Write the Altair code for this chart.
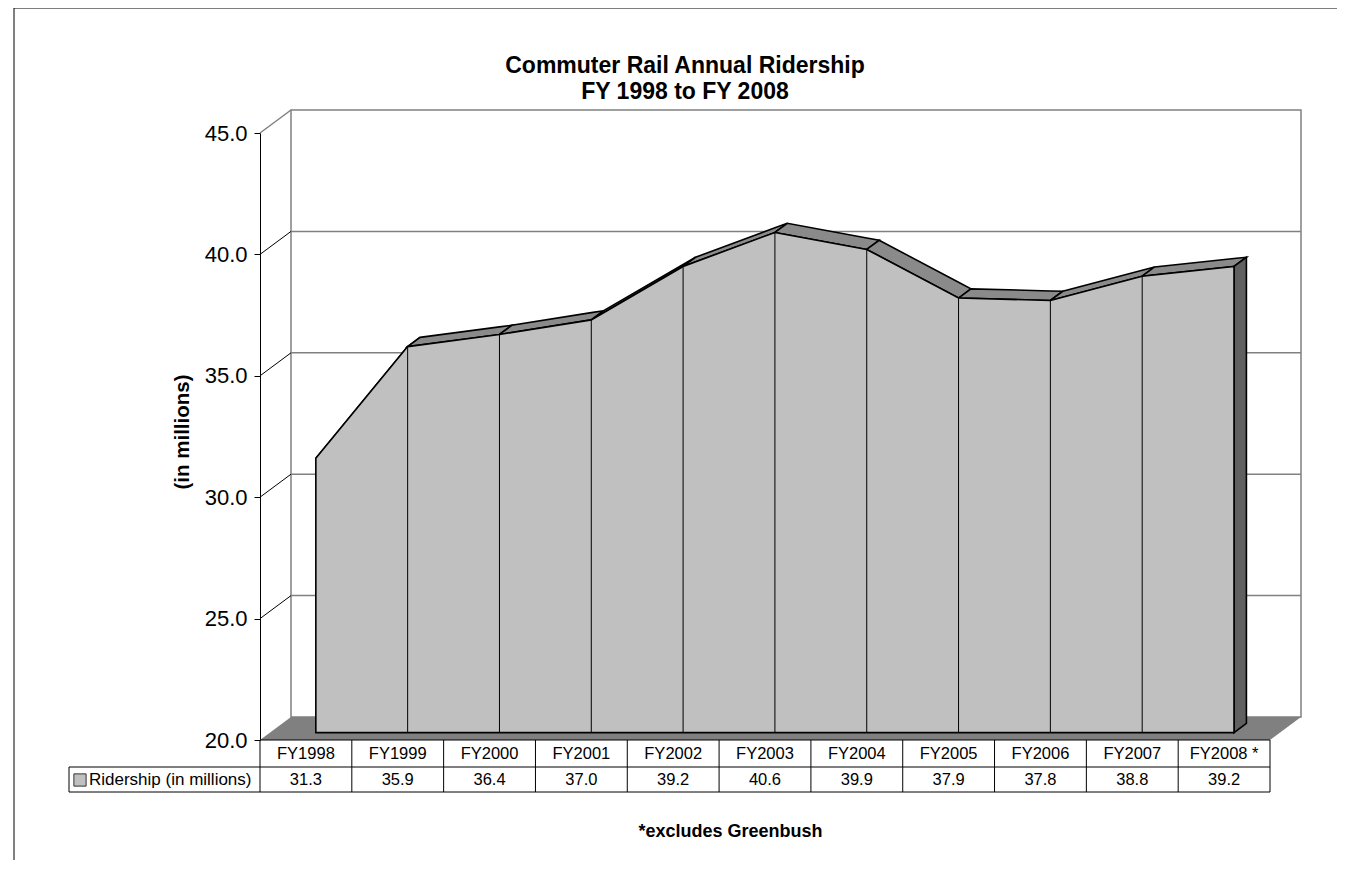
import altair as alt
import pandas as pd

# ---------------- data ----------------
categories = ["FY1998", "FY1999", "FY2000", "FY2001", "FY2002", "FY2003",
              "FY2004", "FY2005", "FY2006", "FY2007", "FY2008 *"]
ridership = [31.3, 35.9, 36.4, 37.0, 39.2, 40.6, 39.9, 37.9, 37.8, 38.8, 39.2]
y_ticks = [20, 25, 30, 35, 40, 45]
series_name = "Ridership (in millions)"
title_lines = ["Commuter Rail Annual Ridership", "FY 1998 to FY 2008"]
y_title = "(in millions)"
footnote = "*excludes Greenbush"

# ---------------- layout / style ----------------
FONT = "Liberation Sans"
W, H = 1010, 607
PAD = {"left": 252, "top": 125, "right": 67, "bottom": 120}
Y0, Y1 = y_ticks[0], y_ticks[-1]
N = len(categories)
X_LO, X_HI = -0.5, N - 0.5
DEPTH_PX = (31, 23)          # oblique depth of the 3-D box, in pixels
PX_X = W / N
PX_Y = H / (Y1 - Y0)
DDX = DEPTH_PX[0] / PX_X     # same depth, in data units
DDY = DEPTH_PX[1] / PX_Y
Z0, Z1 = 0.32, 0.72          # front / back depth of the area ribbon
ROW1, ROW2 = 27, 52          # table row lines below the floor (px)
LEG_LEFT = -191              # legend cell left edge (px from plot left)
TITLE_X = 425
TITLE_DY = [-67, -41]

FRONT = "#c0c0c0"
TOP = "#8a8a8a"
SIDE = "#606060"
FLOOR = "#808080"
WALL = "#808080"


def proj(i, v, z):
    return i + z * DDX, v + z * DDY


xs = alt.Scale(domain=[X_LO, X_HI], nice=False, zero=False)
ys = alt.Scale(domain=[Y0, Y1], nice=False, zero=False)

x_axis = alt.Axis(title=footnote, labels=False, ticks=False, domain=False, grid=False,
                  titleFont=FONT, titleFontSize=18, titleFontWeight="bold", titleColor="black",
                  titleX=470, titleY=91, titleAlign="center", titleBaseline="middle")
y_axis = alt.Axis(values=y_ticks, format=".1f", grid=False, domainColor="black",
                  domainWidth=1, tickColor="black", tickSize=6, tickWidth=1,
                  labelFont=FONT, labelFontSize=22, labelColor="black", labelPadding=7,
                  title=y_title, titleFont=FONT, titleFontSize=20.5, titleFontWeight="bold",
                  titleColor="black", titleX=-78, titleY=H / 2 - 5, titleAngle=270,
                  titleAlign="center", titleBaseline="middle")


def X(field):
    return alt.X(field, type="quantitative", scale=xs, axis=x_axis)


def Y(field):
    return alt.Y(field, type="quantitative", scale=ys, axis=y_axis)


def YD(value):
    return alt.Y(datum=value, scale=ys, axis=y_axis)


one = pd.DataFrame({"k": [0]})

# outer frame
frame = alt.Chart(one).mark_rect(fill="transparent", stroke="black", strokeWidth=1).encode(
    x=alt.value(-246), x2=alt.value(W + 300), y=alt.value(-125), y2=alt.value(H + 400))

# title (two lines)
title_layers = []
for line, dy in zip(title_lines, TITLE_DY):
    tdf = pd.DataFrame({"t": [line]})
    title_layers.append(
        alt.Chart(tdf).mark_text(font=FONT, fontSize=23, fontWeight="bold", color="black",
                                 align="center", baseline="middle", yOffset=dy).encode(
            x=alt.value(TITLE_X), y=YD(Y1), text="t:N"))

# floor (horizontal area -> parallelogram)
fx0, fy0 = proj(X_LO, Y0, 0)
fx1, fy1 = proj(X_LO, Y0, 1)
floor_df = pd.DataFrame({"y": [fy0, fy1], "x": [fx0, fx1],
                         "x2": [X_HI, X_HI + DDX]})
floor = alt.Chart(floor_df).mark_area(orient="horizontal", color=FLOOR).encode(
    y=Y("y"), x=X("x"), x2="x2")

# back wall
back_df = pd.DataFrame({"x": [X_LO + DDX], "x2": [X_HI + DDX],
                        "y": [Y0 + DDY], "y2": [Y1 + DDY]})
back = alt.Chart(back_df).mark_rect(fill="white", stroke=WALL, strokeWidth=1.5).encode(
    x=X("x"), x2="x2", y=Y("y"), y2="y2")

grid_df = pd.DataFrame({"y": [t + DDY for t in y_ticks[1:-1]],
                        "x": X_LO + DDX, "x2": X_HI + DDX})
grid = alt.Chart(grid_df).mark_rule(color=WALL, strokeWidth=1.5).encode(
    x=X("x"), x2="x2", y=Y("y"))

diag_df = pd.DataFrame({"x": X_LO, "x2": X_LO + DDX,
                        "y": y_ticks[1:-1], "y2": [t + DDY for t in y_ticks[1:-1]]})
diag = alt.Chart(diag_df).mark_rule(color="black", strokeWidth=1).encode(
    x=X("x"), x2="x2", y=Y("y"), y2="y2")
diag_top_df = pd.DataFrame({"x": [X_LO], "x2": [X_LO + DDX], "y": [Y1], "y2": [Y1 + DDY]})
diag_top = alt.Chart(diag_top_df).mark_rule(color=WALL, strokeWidth=1.5).encode(
    x=X("x"), x2="x2", y=Y("y"), y2="y2")


def lerp(x, x0, y0, x1, y1):
    return y0 + (y1 - y0) * (x - x0) / (x1 - x0)


# top ribbons of the 3-D area
rib_rows = []
for k in range(N - 1):
    ax, ay = proj(k, ridership[k], Z0)
    apx, apy = proj(k, ridership[k], Z1)
    bx, by = proj(k + 1, ridership[k + 1], Z0)
    bpx, bpy = proj(k + 1, ridership[k + 1], Z1)
    rib_rows += [
        {"seg": k, "x": ax, "top": ay, "bot": ay},
        {"seg": k, "x": apx, "top": apy, "bot": lerp(apx, ax, ay, bx, by)},
        {"seg": k, "x": bx, "top": lerp(bx, apx, apy, bpx, bpy), "bot": by},
        {"seg": k, "x": bpx, "top": bpy, "bot": bpy},
    ]
rib_df = pd.DataFrame(rib_rows)
ribbons = alt.Chart(rib_df).mark_area(fill=TOP, stroke="black", strokeWidth=1.6,
                                      strokeJoin="miter").encode(
    x=X("x"), y=Y("top"), y2="bot", detail="seg:N")

# right end face
ex0, ey0 = proj(N - 1, ridership[-1], Z0)
ex1, ey1 = proj(N - 1, ridership[-1], Z1)
end_df = pd.DataFrame({"x": [ex0, ex1], "top": [ey0, ey1],
                       "bot": [Y0 + Z0 * DDY, Y0 + Z1 * DDY]})
endface = alt.Chart(end_df).mark_area(fill=SIDE, stroke="black", strokeWidth=1.6).encode(
    x=X("x"), y=Y("top"), y2="bot")

# front face
front_df = pd.DataFrame({"x": [proj(i, v, Z0)[0] for i, v in enumerate(ridership)],
                         "top": [proj(i, v, Z0)[1] for i, v in enumerate(ridership)],
                         "bot": Y0 + Z0 * DDY})
front = alt.Chart(front_df).mark_area(fill=FRONT, stroke="black", strokeWidth=1.6).encode(
    x=X("x"), y=Y("top"), y2="bot")
dividers = alt.Chart(front_df.iloc[1:-1]).mark_rule(color="black", strokeWidth=1).encode(
    x=X("x"), y=Y("bot"), y2="top")

# ---------------- data table ----------------
tbl = pd.DataFrame({"i": list(range(N)), "cat": categories, "val": ridership})
bounds = pd.DataFrame({"x": [i - 0.5 for i in range(N + 1)]})
vlines = alt.Chart(bounds).mark_rule(color="black", strokeWidth=1, y2Offset=ROW2).encode(
    x=X("x"), y=YD(Y0), y2=alt.Y2(datum=Y0))
hl_df = pd.DataFrame({"x": [X_LO], "x2": [X_HI]})
hline_top = alt.Chart(hl_df).mark_rule(color="black", strokeWidth=1).encode(
    x=X("x"), x2="x2", y=YD(Y0))
hline_mid = alt.Chart(hl_df).mark_rule(color="black", strokeWidth=1, yOffset=ROW1,
                                       y2Offset=ROW1, xOffset=LEG_LEFT).encode(
    x=X("x"), x2="x2", y=YD(Y0))
hline_bot = alt.Chart(hl_df).mark_rule(color="black", strokeWidth=1, yOffset=ROW2,
                                       y2Offset=ROW2, xOffset=LEG_LEFT).encode(
    x=X("x"), x2="x2", y=YD(Y0))
leg_edge = alt.Chart(hl_df).mark_rule(color="black", strokeWidth=1, xOffset=LEG_LEFT,
                                      yOffset=ROW1, y2Offset=ROW2).encode(
    x=X("x"), y=YD(Y0), y2=alt.Y2(datum=Y0))

header = alt.Chart(tbl).mark_text(font=FONT, fontSize=16.5, color="black", baseline="middle",
                                  yOffset=ROW1 / 2 + 0.5).encode(
    x=X("i"), y=YD(Y0), text="cat:N")
values = alt.Chart(tbl).mark_text(font=FONT, fontSize=16.5, color="black", baseline="middle",
                                  yOffset=(ROW1 + ROW2) / 2 + 0.5).encode(
    x=X("i"), y=YD(Y0), text=alt.Text("val:Q", format=".1f"))

leg_df = pd.DataFrame({"x": [X_LO], "name": [series_name]})
swatch = alt.Chart(leg_df).mark_square(size=150, fill=FRONT, stroke="#333333", strokeWidth=1,
                                       opacity=1, xOffset=LEG_LEFT + 11,
                                       yOffset=(ROW1 + ROW2) / 2 + 0.5).encode(
    x=X("x"), y=YD(Y0))
leg_text = alt.Chart(leg_df).mark_text(font=FONT, fontSize=17, color="black", align="left",
                                       baseline="middle", xOffset=LEG_LEFT + 20,
                                       yOffset=(ROW1 + ROW2) / 2 + 0.5).encode(
    x=X("x"), y=YD(Y0), text="name:N")

chart = alt.layer(
    frame, floor, back, grid, diag, diag_top, ribbons, endface, front, dividers,
    vlines, hline_top, hline_mid, hline_bot, leg_edge, header, values, swatch, leg_text,
    *title_layers
).properties(
    width=W, height=H,
    padding=PAD,
    autosize=alt.AutoSizeParams(type="none"),
    background="white",
).configure_view(stroke="transparent")

chart.save("out.html", embed_options={"renderer": "svg", "actions": False})
